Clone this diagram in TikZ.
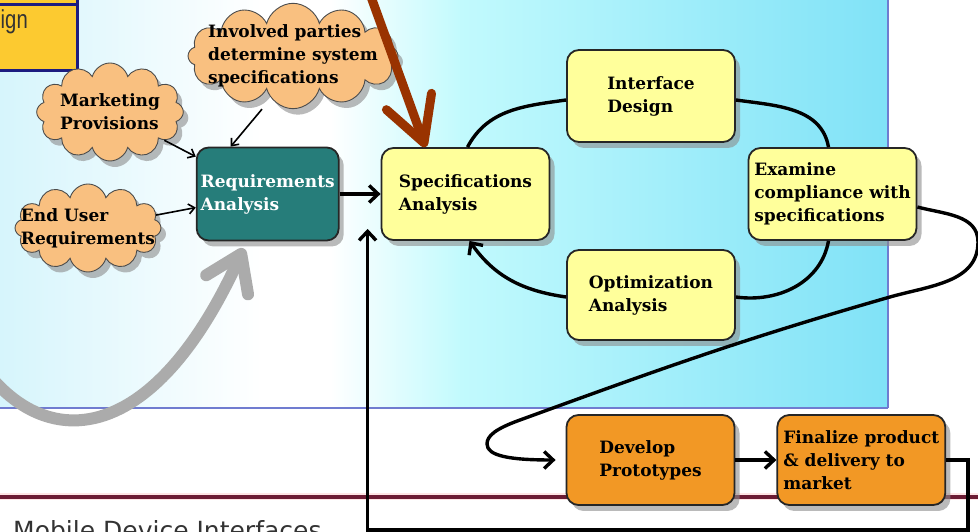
\documentclass[tikz,border=0pt]{standalone}
\usepackage{fontspec}
\setmainfont{DejaVu Serif}
\newfontfamily\labelsans{DejaVu Sans}
\newfontfamily\narrowsans{Liberation Sans}
\usetikzlibrary{arrows.meta, positioning, shapes.symbols, shadows}
\definecolor{panelCyan}{RGB}{128,226,247}
\definecolor{panelPale}{RGB}{194,250,253}
\definecolor{panelEdge}{RGB}{214,245,252}
\definecolor{frameBlue}{RGB}{112,124,208}
\definecolor{specYellow}{RGB}{255,255,155}
\definecolor{reqTeal}{RGB}{38,125,122}
\definecolor{protoOrange}{RGB}{242,152,37}
\definecolor{cloudPeach}{RGB}{249,192,128}
\definecolor{rustBrown}{RGB}{153,51,0}
\definecolor{wineLine}{RGB}{108,28,52}
\definecolor{goldFill}{RGB}{252,202,48}
\definecolor{navyEdge}{RGB}{28,28,128}

\begin{document}
\begin{tikzpicture}[x=1pt, y=1pt,
      node distance=41pt and 41pt,
      every node/.style={font=\bfseries\fontsize{17}{23}\selectfont},
      basebox/.style={rectangle, rounded corners=12pt, draw=black!85, line width=1.8pt, align=left, minimum width=168pt, minimum height=92pt, inner sep=2pt, drop shadow={shadow xshift=5pt, shadow yshift=-6pt, fill=black!45, opacity=0.6}},
      specbox/.style={basebox, fill=specYellow},
      reqbox/.style={basebox, fill=reqTeal, text=white, minimum width=142pt, minimum height=93pt},
      protobox/.style={basebox, fill=protoOrange, minimum height=90pt},
      note/.style={cloud, cloud puffs=12, cloud ignores aspect, draw=black!70, line width=0.9pt, fill=cloudPeach, align=left, inner sep=0pt, drop shadow={shadow xshift=5pt, shadow yshift=-6pt, fill=black!45, opacity=0.6}},
      arrow/.style={-{Straight Barb[length=9pt, width=17pt]}, line width=3.4pt},
      thinarrow/.style={-{Straight Barb[length=6pt, width=10pt]}, line width=1.6pt},
      cycline/.style={line width=3.4pt},
      grayarrow/.style={-{Straight Barb[length=34pt, width=46pt, round]}, draw=black!33, line width=12pt, line cap=round},
      rustarrow/.style={-{Straight Barb[length=44pt, width=48pt, round]}, draw=rustBrown, line width=9pt, line cap=round}
    ]
      \useasboundingbox (0,0) rectangle (978,532);
      \clip (0,0) rectangle (978,532);

      % Background panel and strips
      \shade[left color=panelEdge, right color=white] (0,124) rectangle (262,545);
      \fill[white] (261,124) rectangle (331,545);
      \shade[left color=white, right color=panelPale] (330,124) rectangle (461,545);
      \shade[left color=panelPale, right color=panelCyan] (460,124) rectangle (888,545);
      \draw[frameBlue, line width=1.2pt] (0,124) -- (888,124);
      \draw[frameBlue, line width=2.4pt] (888,124) -- (888,545);
      \draw[fill=goldFill, draw=navyEdge, line width=3pt] (-10,527) rectangle (77,570);
      \draw[fill=goldFill, draw=navyEdge, line width=3pt] (-10,461) rectangle (77,527);
      \node[font=\narrowsans\fontsize{26}{30}\selectfont, text=black!80, anchor=base east, inner sep=0pt] (dsgnTxt) at (28,503) {\scalebox{0.78}[1]{ign}};
      \draw[pink!40, line width=7pt] (0,35) -- (978,35);
      \draw[wineLine, line width=3.5pt] (0,35) -- (978,35);
      \node[font=\labelsans\fontsize{25}{30}\selectfont, text=black!80, anchor=base west, inner sep=0pt] (mobileTxt) at (13,-8) {Mobile Device Interfaces};

      % Input notes
      \node[note, inner xsep=-15pt, inner ysep=-7pt, minimum width=210pt, minimum height=85pt] (involved) at (293,476) {Involved parties\\determine system\\specifications};
      \node[note, minimum width=142pt, minimum height=98pt] (market) at (110,420) {Marketing\\Provisions};
      \node[note, inner xsep=-22pt, minimum width=146pt, minimum height=88pt] (endUser) at (88,304) {End User\\Requirements};

      % Analysis cycle
      \node[specbox] (specA) at (465.5,338) {Specifications\\Analysis};
      \node[reqbox, left=of specA] (reqA) {Requirements\\Analysis};
      \node[specbox] (intD) at (651,436) {Interface\\Design};
      \node[specbox] (exam) at (832.5,338) {Examine\\compliance with\\specifications};
      \node[specbox, minimum height=90pt] (optA) at (651,237) {Optimization\\Analysis};

      % Prototype row
      \node[protobox] (devP) at (650.5,72) {Develop\\Prototypes};
      \node[protobox, right=of devP] (finP) {Finalize product\\\& delivery to\\market};

      \coordinate (grayFrom) at (-50,230);
      \coordinate (rustFrom) at (362,560);
      \coordinate (loopCorner) at (968,2);
      \coordinate (backTip) at ([xshift=-13pt,yshift=12pt]specA.south west);

      % Connecting arrows
      \draw[thinarrow] (market) -- (reqA);
      \draw[thinarrow] (endUser) -- (reqA);
      \draw[thinarrow] ([xshift=-31pt]involved.south) -- ([xshift=-37pt]reqA.north);
      \draw[arrow] (reqA) -- (specA);
      \draw[cycline] ([xshift=2pt]specA.north) to[out=62,in=188] ([yshift=-4pt]intD.west);
      \draw[cycline] ([yshift=-4pt]intD.east) to[out=-8,in=100] ([xshift=-4pt]exam.north);
      \draw[cycline] ([xshift=-4pt]exam.south) to[out=-100,in=-8] ([yshift=-2pt]optA.east);
      \draw[arrow] ([yshift=-2pt]optA.west) to[out=172,in=-55] ([xshift=4pt]specA.south);
      \draw[arrow, shorten >=10pt] ([yshift=-13pt]exam.east) to[out=-15,in=90] (978,290) to[out=-90,in=16] (890,235) to[out=196,in=20] (520,112) .. controls (495,103) and (487,96) .. (487,88) .. controls (487,76) and (510,72) .. (devP.west);
      \draw[arrow] (devP) -- (finP);
      \draw[arrow] (finP.east) -| (loopCorner) -| (backTip);
      \draw[grayarrow] (grayFrom) .. controls (0,85) and (135,45) .. ([xshift=-24pt,yshift=-7pt]reqA.south);
      \draw[rustarrow] (rustFrom) -- ([xshift=-40pt]specA.north);
    \end{tikzpicture}
\end{document}
